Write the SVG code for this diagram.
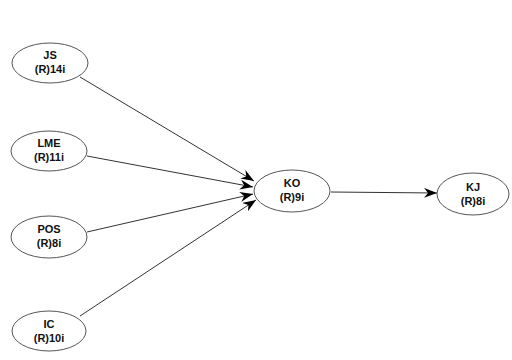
<svg xmlns="http://www.w3.org/2000/svg" width="512" height="360" viewBox="0 0 512 360">
  <style>
    .node ellipse { fill: #ffffff; stroke: #555555; stroke-width: 1; }
    .node text { font-family: "Liberation Sans", Arial, sans-serif; font-size: 11px; font-weight: bold; fill: #111111; text-anchor: middle; }
    .edge { stroke: #333333; stroke-width: 1; fill: none; marker-end: url(#arrow); }
  </style>
  <defs>
    <marker id="arrow" markerUnits="userSpaceOnUse" markerWidth="14" markerHeight="10" refX="13" refY="5" orient="auto">
      <path d="M0,0 L13,5 L0,10 L4,5 Z" fill="#000000"/>
    </marker>
  </defs>
  <rect width="512" height="360" fill="#ffffff"/>

  <g id="connectors">
    <line class="edge" x1="80" y1="77" x2="254" y2="181"/>
    <line class="edge" x1="87" y1="156" x2="253" y2="187"/>
    <line class="edge" x1="87" y1="232" x2="253" y2="194"/>
    <line class="edge" x1="80" y1="316" x2="256" y2="200"/>
    <line class="edge" x1="331" y1="192" x2="437" y2="193"/>
  </g>

  <g id="JS" class="node">
    <ellipse cx="50" cy="63" rx="38" ry="20"/>
    <text x="50" y="59">JS</text>
    <text x="50" y="73">(R)14i</text>
  </g>
  <g id="LME" class="node">
    <ellipse cx="49" cy="151" rx="38" ry="20"/>
    <text x="49" y="147">LME</text>
    <text x="49" y="161">(R)11i</text>
  </g>
  <g id="POS" class="node">
    <ellipse cx="49" cy="237" rx="38" ry="21"/>
    <text x="49" y="233">POS</text>
    <text x="49" y="247">(R)8i</text>
  </g>
  <g id="IC" class="node">
    <ellipse cx="49" cy="331" rx="37" ry="20"/>
    <text x="49" y="328">IC</text>
    <text x="49" y="342">(R)10i</text>
  </g>
  <g id="KO" class="node">
    <ellipse cx="292" cy="191" rx="38" ry="21"/>
    <text x="292" y="187">KO</text>
    <text x="292" y="201">(R)9i</text>
  </g>
  <g id="KJ" class="node">
    <ellipse cx="473" cy="194" rx="36" ry="21"/>
    <text x="473" y="191">KJ</text>
    <text x="473" y="205">(R)8i</text>
  </g>
</svg>
